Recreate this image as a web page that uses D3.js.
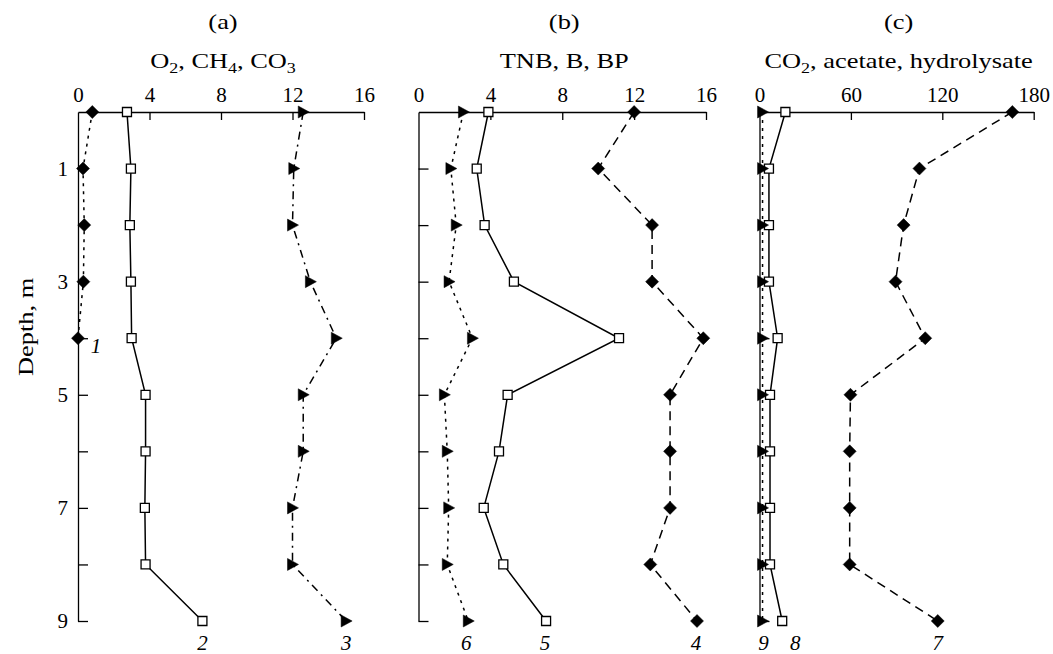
<!DOCTYPE html>
<html>
<head>
<meta charset="utf-8">
<script src="https://cdn.jsdelivr.net/npm/d3@7"></script>
<style>
  html, body { margin: 0; padding: 0; background: #fff; }
  svg { display: block; font-family: "Liberation Serif", "Times New Roman", serif; }
</style>
</head>
<body>
<svg id="chart" width="1053" height="654"></svg>
<script>
// ---------- DATA ----------
const depths = [0, 1, 2, 3, 4, 5, 6, 7, 8, 9];
const depthTicks = [0, 1, 2, 3, 4, 5, 6, 7, 8, 9];

// panel (a): O2, CH4, CO3
const o2Depths = [0, 1, 2, 3, 4];
const o2 = [0.8, 0.28, 0.35, 0.3, 0.0];                                   // curve 1
const ch4 = [2.74, 2.96, 2.9, 2.96, 3.0, 3.78, 3.78, 3.74, 3.78, 6.96];   // curve 2
const co3 = [12.6, 12.07, 12.0, 13.0, 14.45, 12.6, 12.6, 12.0, 12.0, 15.0]; // curve 3

// panel (b): TNB, B, BP
const bp = [12.0, 10.0, 13.0, 13.0, 15.85, 14.0, 14.0, 14.0, 12.9, 15.5];  // curve 4
const bio = [3.89, 3.24, 3.68, 5.31, 11.16, 4.96, 4.48, 3.63, 4.72, 7.1]; // curve 5
const tnb = [2.5, 1.8, 2.1, 1.7, 3.0, 1.44, 1.6, 1.68, 1.6, 2.77];       // curve 6

// panel (c): CO2, acetate, hydrolysate
const hydrolysate = [166, 105, 94.6, 89.3, 108.8, 59.7, 59.2, 59.2, 59.2, 117]; // curve 7
const acetate = [17, 6.2, 6.2, 6.2, 11.9, 6.9, 6.9, 6.9, 6.9, 14.9];            // curve 8
const co2 = [2, 2, 2, 2, 2, 2, 2, 2, 2, 2];                                      // curve 9

const ticksA = [0, 4, 8, 12, 16];
const ticksB = [0, 4, 8, 12, 16];
const ticksC = [0, 60, 120, 180];
const panelLetters = ["(a)", "(b)", "(c)"];

// ---------- LAYOUT ----------
const svg = d3.select("#chart");
const FS = 21;        // tick digits
const TFS = 22;       // titles
const SX = 1.2;       // horizontal stretch of the reference lettering
const y = d3.scaleLinear().domain([0, 9]).range([112, 621]);

const panels = [
  { letter: panelLetters[0], x: d3.scaleLinear().domain([0, 16]).range([78, 364]), ticks: ticksA,
    title: [["O", 0], ["2", 1], [", CH", 0], ["4", 1], [", CO", 0], ["3", 1]], showYLabels: true },
  { letter: panelLetters[1], x: d3.scaleLinear().domain([0, 16]).range([418.5, 706]), ticks: ticksB,
    title: [["TNB, B, BP", 0]], showYLabels: false },
  { letter: panelLetters[2], x: d3.scaleLinear().domain([0, 180]).range([759.5, 1033.7]), ticks: ticksC,
    title: [["CO", 0], ["2", 1], [", acetate, hydrolysate", 0]], showYLabels: false }
];

const DOT = "3,5", DASH = "9,6", DASHDOT = "8,5,2,5", SOLID = null;

const series = [
  { p: 0, d: o2Depths, v: o2, marker: "diamond", dash: DOT, label: "1", lab: [18, 15], anchorIdx: 4 },
  { p: 0, d: depths, v: ch4, marker: "square", dash: SOLID, label: "2", lab: [0, 29] },
  { p: 0, d: depths, v: co3, marker: "triangle", dash: DASHDOT, label: "3", lab: [0, 29] },
  { p: 1, d: depths, v: bp, marker: "diamond", dash: DASH, label: "4", lab: [-1, 29] },
  { p: 1, d: depths, v: bio, marker: "square", dash: SOLID, label: "5", lab: [-1, 29] },
  { p: 1, d: depths, v: tnb, marker: "triangle", dash: DOT, label: "6", lab: [-2, 29] },
  { p: 2, d: depths, v: hydrolysate, marker: "diamond", dash: DASH, label: "7", lab: [0, 29] },
  { p: 2, d: depths, v: acetate, marker: "square", dash: SOLID, label: "8", lab: [13, 29] },
  { p: 2, d: depths, v: co2, marker: "triangle", dash: DOT, label: "9", lab: [1, 29] }
];

// ---------- AXES ----------
panels.forEach((P, i) => {
  const cx = (P.x.range()[0] + P.x.range()[1]) / 2 + 2;
  svg.append("text").attr("transform", `translate(${cx},29) scale(${SX},1)`)
    .attr("text-anchor", "middle").attr("font-size", TFS).text(P.letter);
  const t = svg.append("text").attr("transform", `translate(${cx},68) scale(${SX},1)`)
    .attr("text-anchor", "middle").attr("font-size", TFS);
  P.title.forEach(([s, sub], k) => {
    const ts = t.append("tspan").text(s);
    if (sub) ts.attr("font-size", 15).attr("dy", 5);
    else if (k > 0 && P.title[k - 1][1]) ts.attr("dy", -5);
  });

  const top = svg.append("g").attr("transform", `translate(0,${y(0)})`)
    .call(d3.axisTop(P.x).tickValues(P.ticks).tickSizeInner(-8).tickSizeOuter(0).tickPadding(10)
      .tickFormat(d3.format("d")));
  top.selectAll("text").attr("font-size", FS).attr("font-family", "Liberation Serif").attr("fill", "#000");
  top.selectAll("line,path").attr("stroke", "#000").attr("stroke-width", 1.3);
  top.selectAll(".tick").filter(d => d === 0).select("line").remove();

  const left = svg.append("g").attr("transform", `translate(${P.x(0)},0)`)
    .call(d3.axisLeft(y).tickValues(depthTicks).tickSizeInner(-10).tickSizeOuter(0).tickPadding(10)
      .tickFormat(d => (P.showYLabels && d % 2 === 1) ? d : ""));
  left.selectAll("text").attr("font-size", FS).attr("font-family", "Liberation Serif").attr("fill", "#000");
  left.selectAll("line,path").attr("stroke", "#000").attr("stroke-width", 1.3);
  left.selectAll(".tick").filter(d => d === 0).select("line").remove();
});

svg.append("text").attr("transform", `translate(33,${y(3.8)}) rotate(-90) scale(${SX},1)`)
  .attr("text-anchor", "middle").attr("font-size", TFS).text("Depth, m");

// ---------- SERIES ----------
const markerPath = {
  diamond: "M0,-6.5L6.5,0L0,6.5L-6.5,0Z",
  square: "M-4.5,-4.5H4.5V4.5H-4.5Z",
  triangle: "M-5,-6L-5,6L6,0Z"
};

const lineGen = (X) => d3.line().x(d => X(d[1])).y(d => y(d[0]));

series.forEach(s => {
  const X = panels[s.p].x;
  const pts = s.d.map((dd, i) => [dd, s.v[i]]);
  const path = svg.append("path").datum(pts).attr("d", lineGen(X)(pts))
    .attr("fill", "none").attr("stroke", "#000").attr("stroke-width", 1.5);
  if (s.dash) path.attr("stroke-dasharray", s.dash);
});

const order = ["square", "diamond", "triangle"];
order.forEach(m => {
  series.filter(s => s.marker === m).forEach(s => {
    const X = panels[s.p].x;
    const pts = s.d.map((dd, i) => [dd, s.v[i]]);
    svg.append("g").selectAll("path").data(pts).join("path")
      .attr("transform", d => `translate(${X(d[1])},${y(d[0])})`)
      .attr("d", markerPath[m])
      .attr("fill", m === "square" ? "#fff" : "#000")
      .attr("stroke", "#000").attr("stroke-width", m === "square" ? 1.3 : 0.5);
  });
});

// curve labels
series.forEach(s => {
  const X = panels[s.p].x;
  const idx = s.anchorIdx !== undefined ? s.anchorIdx : s.v.length - 1;
  svg.append("text")
    .attr("x", X(s.v[idx]) + s.lab[0]).attr("y", y(s.d[idx]) + s.lab[1])
    .attr("text-anchor", "middle").attr("font-size", FS).attr("font-style", "italic")
    .text(s.label);
});
</script>
</body>
</html>
